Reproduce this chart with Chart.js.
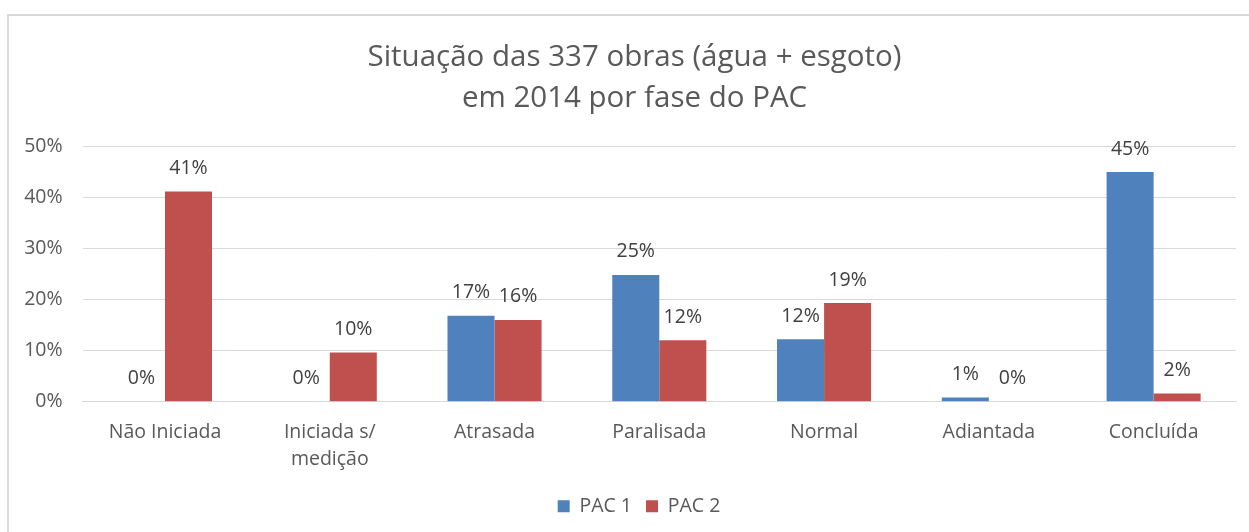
<!DOCTYPE html>
<html>
<head>
<meta charset="utf-8">
<script src="https://cdn.jsdelivr.net/npm/chart.js@4/dist/chart.umd.min.js"></script>
<style>
  html, body { margin: 0; padding: 0; background: #ffffff; overflow: hidden; }
  #frame { position: absolute; left: 7px; top: 14px; width: 1260px; height: 540px; border: 2px solid #d9d9d9; box-sizing: border-box; }
  #wrap { position: absolute; left: 0; top: 0; width: 1249px; height: 532px; }
</style>
</head>
<body>
<div id="frame"></div>
<div id="wrap"><canvas id="c" width="1249" height="532"></canvas></div>
<script>
const titleLines = ['Situação das 337 obras (água + esgoto)', 'em 2014 por fase do PAC'];
const categories = [
  'Não Iniciada',
  ['Iniciada s/', 'medição'],
  'Atrasada',
  'Paralisada',
  'Normal',
  'Adiantada',
  'Concluída'
];
const seriesNames = ['PAC 1', 'PAC 2'];
const pac1 = [0, 0, 16.8, 24.8, 12.2, 0.8, 44.9];
const pac2 = [41.1, 9.6, 16.0, 12.0, 19.3, 0, 1.6];
const yTicks = [0, 10, 20, 30, 40, 50];

const FONT = '"Open Sans", sans-serif';
const TEXT = '#595959';
const SMALL = 19.5;

const dataLabels = {
  id: 'dataLabels',
  afterDatasetsDraw(chart) {
    const ctx = chart.ctx;
    ctx.save();
    ctx.font = SMALL + 'px ' + FONT;
    ctx.fillStyle = '#404040';
    ctx.textAlign = 'center';
    ctx.textBaseline = 'middle';
    chart.data.datasets.forEach((ds, i) => {
      const meta = chart.getDatasetMeta(i);
      meta.data.forEach((el, j) => {
        const v = ds.data[j];
        ctx.fillText(Math.round(v) + '%', el.x, el.y - 23);
      });
    });
    ctx.restore();
  }
};

// Centre the title and legend inside the framed chart box rather than the canvas
const centerBlocks = {
  id: 'centerBlocks',
  afterLayout(chart) {
    const shift = (box, cx) => {
      if (!box) return;
      const dx = cx - (box.left + box.right) / 2;
      box.left += dx; box.right += dx;
    };
    shift(chart.titleBlock, 634.5);
    shift(chart.legend, 639);
  }
};

new Chart(document.getElementById('c'), {
  type: 'bar',
  data: {
    labels: categories,
    datasets: [
      { label: seriesNames[0], data: pac1, backgroundColor: '#4F81BD' },
      { label: seriesNames[1], data: pac2, backgroundColor: '#C0504D' }
    ]
  },
  options: {
    responsive: false,
    animation: false,
    events: [],
    layout: { padding: { left: 12, right: 13, top: 0, bottom: 6 } },
    datasets: { bar: { categoryPercentage: 0.571, barPercentage: 1.0 } },
    plugins: {
      title: {
        display: true,
        text: titleLines,
        color: TEXT,
        font: { family: FONT, size: 29.5, weight: 'normal', lineHeight: 1.39 },
        padding: { top: 37.5, bottom: 26.5 }
      },
      legend: {
        position: 'bottom',
        labels: {
          color: TEXT,
          font: { family: FONT, size: SMALL },
          boxWidth: 12,
          boxHeight: 12,
          padding: 14
        }
      },
      tooltip: { enabled: false }
    },
    scales: {
      y: {
        min: 0,
        max: 50,
        afterBuildTicks(scale) { scale.ticks = yTicks.map(v => ({ value: v })); },
        afterFit(scale) { scale.width = 70.6; },
        border: { display: false },
        grid: { color: '#d9d9d9', drawTicks: false, lineWidth: 1 },
        ticks: {
          color: TEXT,
          padding: 20,
          font: { family: FONT, size: SMALL },
          callback: v => v + '%'
        }
      },
      x: {
        afterFit(scale) { scale.height = 80.8; },
        border: { color: '#d9d9d9' },
        grid: { display: false, drawTicks: false },
        ticks: {
          color: TEXT,
          padding: 17,
          maxRotation: 0,
          autoSkip: false,
          font: { family: FONT, size: SMALL, lineHeight: 1.4 }
        }
      }
    }
  },
  plugins: [dataLabels, centerBlocks]
});
</script>
</body>
</html>
